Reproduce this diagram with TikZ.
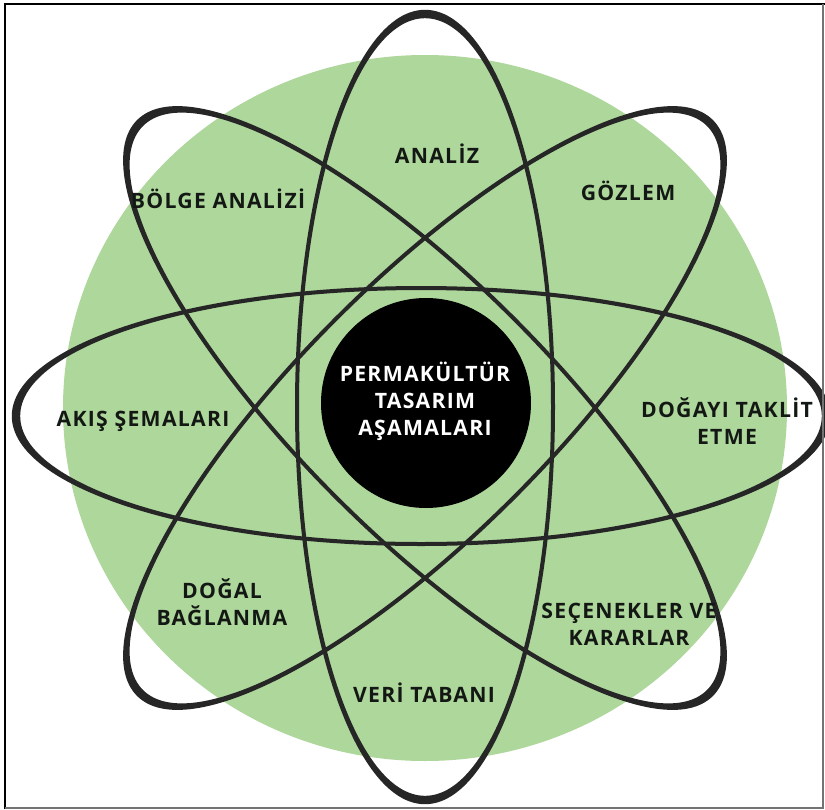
\documentclass[tikz,border=0pt]{standalone}
\usepackage{fontspec}
\setmainfont{Open Sans}
\newfontfamily\lblfont{Open Sans}[LetterSpace=6]
\definecolor{leaf}{RGB}{174,215,156}
\definecolor{ink}{RGB}{38,38,38}
\definecolor{txt}{RGB}{20,24,20}
\tikzset{
  lbl/.style={font=\lblfont\bfseries\fontsize{21.2}{27}\selectfont, text=txt, align=center, inner sep=0pt},
  centerlbl/.style={lbl, text=white},
}
\newcommand{\orbit}[4]{% center, angle, a, b
  \begin{scope}[shift={#1}, rotate=#2]
    \fill[ink, even odd rule] (0,0) ellipse [x radius=#3+4.2, y radius=#4+2.0]
                              (0,0) ellipse [x radius=#3-4.2, y radius=#4-2.0];
  \end{scope}}
\begin{document}
\begin{tikzpicture}[x=1pt,y=-1pt]
  \useasboundingbox (0,0) rectangle (825,809);
  \clip (0,0) rectangle (825,809);
  \fill[white] (0,0) rectangle (825,809);
  % green disc
  \fill[leaf] (425,408) ellipse [x radius=362, y radius=353];
  % orbits
  \orbit{(421,416)}{0}{405}{128}
  \orbit{(425,407)}{90}{393}{128}
  \orbit{(425,408)}{45}{403}{126}
  \orbit{(425,408)}{-45}{403}{126}
  % core
  \node[circle, fill=black, minimum size=210pt, inner sep=0pt] (core) at (426,403) {};
  \node[centerlbl] (title) at (425,401) {PERMAKÜLTÜR\\TASARIM\\AŞAMALARI};
  % labels
  \node[lbl] (analiz) at (437,154) {ANALİZ};
  \node[lbl] (gozlem) at (628,191) {GÖZLEM};
  \node[lbl] (bolge) at (218,199) {BÖLGE ANALİZİ};
  \node[lbl] (akis) at (143,421) {AKIŞ ŞEMALARI};
  \node[lbl] (doga) at (727,421) {DOĞAYI TAKLİT\\ETME};
  \node[lbl] (dogal) at (222,602) {DOĞAL\\BAĞLANMA};
  \node[lbl] (secenek) at (629,624) {SEÇENEKLER VE\\KARARLAR};
  \node[lbl] (veri) at (424,693) {VERİ TABANI};
  % frame
  \draw[black, line width=2pt] (5,809) -- (5,4) -- (825,4);
  \draw[black!55, line width=1.5pt] (5,808) -- (823,808) -- (823,4);
\end{tikzpicture}
\end{document}
